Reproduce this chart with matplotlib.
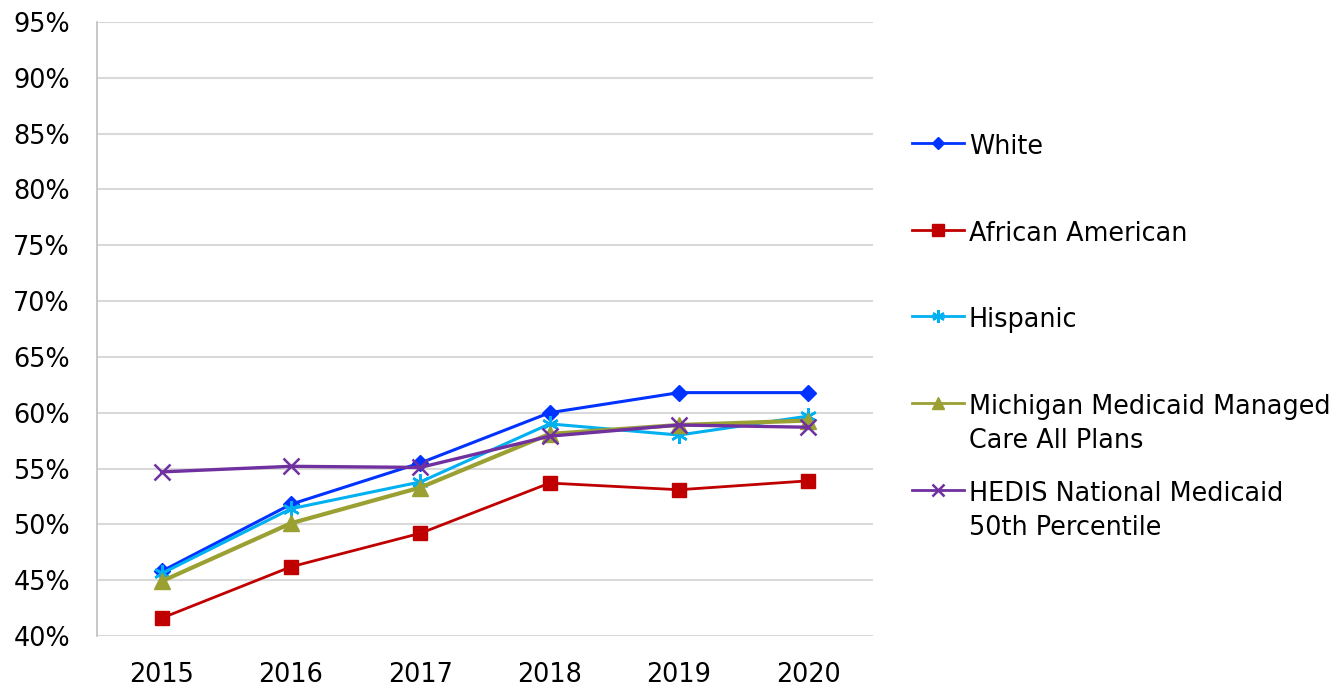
import matplotlib
matplotlib.use("Agg")
import matplotlib.pyplot as plt
from matplotlib.lines import Line2D
from matplotlib.ticker import FuncFormatter, MultipleLocator

years = ["2015", "2016", "2017", "2018", "2019", "2020"]
white = [45.8, 51.8, 55.5, 60.0, 61.8, 61.8]
african_american = [41.6, 46.2, 49.2, 53.7, 53.1, 53.9]
hispanic = [45.6, 51.4, 53.8, 59.0, 58.0, 59.7]
michigan = [44.9, 50.1, 53.3, 58.1, 58.9, 59.3]
hedis = [54.7, 55.2, 55.1, 57.9, 58.9, 58.7]

labels = ["White", "African American", "Hispanic",
          "Michigan Medicaid Managed\nCare All Plans",
          "HEDIS National Medicaid\n50th Percentile"]

plt.rcParams['font.family'] = ['DejaVu Sans']
FS = 18.4

fig = plt.figure(figsize=(13.42, 6.89), dpi=100)
ax = fig.add_axes([97/1342, 1-636/689, (873-97)/1342, (636-22)/689])

x = list(range(len(years)))
styles = [
    dict(data=white, color="#0033FF", marker="D", ms=8.5, lw=2.2, leg_ms=6),
    dict(data=african_american, color="#C00000", marker="s", ms=10, lw=2.0, leg_ms=8),
    dict(data=hispanic, color="#00B0F0", marker=(6, 2, 0), ms=12, lw=2.2, leg_ms=9, mew=1.8),
    dict(data=michigan, color="#9BA032", marker="^", ms=11, lw=3.0, leg_ms=8),
    dict(data=hedis, color="#7030A0", marker="x", ms=11, lw=2.4, leg_ms=9, mew=1.8),
]
for s in styles:
    ax.plot(x, s["data"], color=s["color"], marker=s["marker"], ms=s["ms"],
            lw=s["lw"], mew=s.get("mew", 1.0), zorder=3)

ax.set_xlim(-0.5, len(years) - 0.5)
ax.set_ylim(40, 95)
ax.yaxis.set_major_locator(MultipleLocator(5))
ax.yaxis.set_major_formatter(FuncFormatter(lambda v, p: f"{v:.0f}%"))
ax.set_xticks(x)
ax.set_xticklabels(years)
ax.grid(axis='y', color="#d9d9d9", lw=1.5, zorder=0)
ax.set_axisbelow(True)
for sp in ["top", "right", "bottom"]:
    ax.spines[sp].set_visible(False)
ax.spines["left"].set_color("#bfbfbf")
ax.spines["left"].set_linewidth(1.2)
ax.tick_params(axis='both', length=0, labelsize=FS, colors="#000000")
ax.tick_params(axis='y', pad=19.5)
ax.tick_params(axis='x', pad=19)

# legend drawn manually
leg_y = [143, 230, 316, 403, 490]
line_step = 34
for s, lab, yy in zip(styles, labels, leg_y):
    fy = 1 - yy / 689
    fig.add_artist(Line2D([912/1342, 964/1342], [fy, fy], color=s["color"],
                          lw=2.0, transform=fig.transFigure))
    fig.add_artist(Line2D([938/1342], [fy], color=s["color"], marker=s["marker"],
                          ms=s["leg_ms"], mew=s.get("mew", 1.0), lw=0,
                          transform=fig.transFigure))
    for i, part in enumerate(lab.split("\n")):
        by = 1 - (yy + 11 + i * line_step) / 689
        fig.text(969/1342, by, part, fontsize=FS, va='baseline', ha='left',
                 transform=fig.transFigure)

fig.savefig("out.png", dpi=100)
